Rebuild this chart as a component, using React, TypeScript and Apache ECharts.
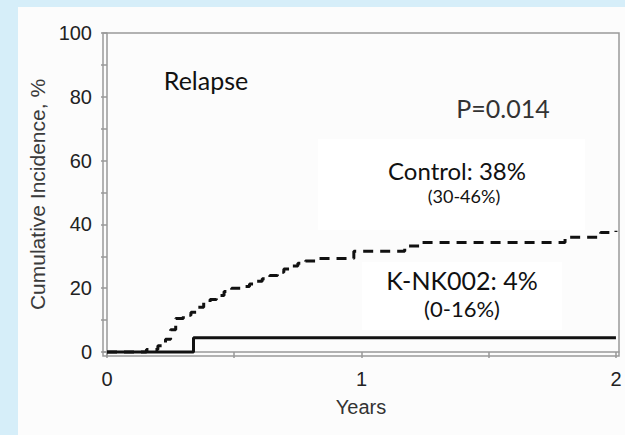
import React, { useEffect, useRef } from "react";
import * as echarts from "echarts";

// Data (Years, cumulative incidence %)
const controlYears = [0, 0.155, 0.2, 0.23, 0.25, 0.27, 0.3, 0.33, 0.355, 0.38, 0.405, 0.43, 0.46, 0.49, 0.525, 0.56, 0.585, 0.61, 0.64, 0.67, 0.695, 0.72, 0.75, 0.78, 0.83, 0.97, 1.17, 1.24, 1.8, 1.94, 2.0];
const controlIncidence = [0, 0.8, 2, 4, 7, 10.5, 11.5, 12.5, 14, 15.5, 16.5, 17.7, 19, 20, 20.5, 21.3, 22.2, 23, 24, 25, 26, 27, 27.8, 28.5, 29.3, 31.6, 33.2, 34.3, 36, 37.5, 38];
const nkYears = [0, 0.34, 2.0];
const nkIncidence = [0, 4.5, 4.5];

const xTickValues = [0, 0.5, 1, 1.5, 2];
const xLabelValues = [0, 1, 2];
const yTickValues = [0, 10, 20, 30, 40, 50, 60, 70, 80, 90, 100];
const yLabelValues = [0, 20, 40, 60, 80, 100];

const titleText = "Relapse";
const pText = "P=0.014";
const controlText = "Control: 38%";
const controlCI = "(30-46%)";
const nkText = "K-NK002: 4%";
const nkCI = "(0-16%)";

export default function App() {
  const ref = useRef<HTMLDivElement>(null);
  useEffect(() => {
    if (!ref.current) return;
    const chart = echarts.init(ref.current, null, { renderer: "svg" });
    const control = controlYears.map((x, i) => [x, controlIncidence[i]]);
    const nk = nkYears.map((x, i) => [x, nkIncidence[i]]);
    const labelFont = "Lato, 'Open Sans', sans-serif";
    const axisFont = "'Liberation Sans', Arial, sans-serif";
    chart.setOption({
      animation: false,
      backgroundColor: "transparent",
      grid: {
        left: 103,
        right: 6,
        top: 33,
        bottom: 79,
        show: true,
        borderColor: "#999999",
        borderWidth: 1.5,
        backgroundColor: "transparent",
      },
      xAxis: {
        type: "value",
        min: -0.0157,
        max: 2.012,
        name: "Years",
        nameLocation: "middle",
        nameGap: 41,
        nameTextStyle: { fontFamily: axisFont, fontSize: 20, color: "#333" },
        axisLine: { show: true, lineStyle: { color: "#999999", width: 1.5 } },
        axisTick: { show: true, length: 6, customValues: xTickValues, lineStyle: { color: "#999999", width: 1.5 } },
        axisLabel: { customValues: xLabelValues, margin: 13, fontFamily: axisFont, fontSize: 20, color: "#222" },
        splitLine: { show: false },
      },
      yAxis: {
        type: "value",
        min: -1.25,
        max: 100,
        name: "Cumulative Incidence, %",
        nameLocation: "middle",
        nameGap: 43,
        nameTextStyle: { fontFamily: axisFont, fontSize: 21, color: "#3a3a3a" },
        axisLine: { show: true, lineStyle: { color: "#999999", width: 1.5 } },
        axisTick: { show: true, length: 6, customValues: yTickValues, lineStyle: { color: "#999999", width: 1.5 } },
        axisLabel: { customValues: yLabelValues, margin: 11, fontFamily: axisFont, fontSize: 20, color: "#222" },
        splitLine: { show: false },
      },
      graphic: [
        { type: "rect", z: 1, shape: { x: 318, y: 139, width: 267, height: 91 }, style: { fill: "#ffffff" } },
        { type: "rect", z: 1, shape: { x: 362, y: 262, width: 200, height: 68 }, style: { fill: "#ffffff" } },
        { type: "text", z: 5, x: 206, y: 80, style: { text: titleText, font: `25px ${labelFont}`, fill: "#111", textAlign: "center", textVerticalAlign: "middle" } },
        { type: "text", z: 5, x: 503, y: 108, style: { text: pText, font: `25px ${labelFont}`, fill: "#333", textAlign: "center", textVerticalAlign: "middle" } },
        { type: "text", z: 5, x: 457, y: 170, style: { text: controlText, font: `24px ${labelFont}`, fill: "#111", textAlign: "center", textVerticalAlign: "middle" } },
        { type: "text", z: 5, x: 464, y: 196, style: { text: controlCI, font: `18px ${labelFont}`, fill: "#111", textAlign: "center", textVerticalAlign: "middle" } },
        { type: "text", z: 5, x: 462, y: 280, style: { text: nkText, font: `25px ${labelFont}`, fill: "#111", textAlign: "center", textVerticalAlign: "middle" } },
        { type: "text", z: 5, x: 462, y: 308, style: { text: nkCI, font: `22px ${labelFont}`, fill: "#111", textAlign: "center", textVerticalAlign: "middle" } },
      ],
      series: [
        {
          name: "Control",
          type: "line",
          step: "end",
          data: control,
          showSymbol: false,
          z: 3,
          lineStyle: { color: "#111", width: 3, type: [10, 7] },
        },
        {
          name: "K-NK002",
          type: "line",
          step: "end",
          data: nk,
          showSymbol: false,
          z: 3,
          lineStyle: { color: "#111", width: 3 },
        },
      ],
    });
    return () => chart.dispose();
  }, []);
  return (
    <div style={{ position: "fixed", left: 0, top: 0, width: 625, height: 435, background: "#d6eef9" }}>
      <div style={{ position: "absolute", left: 18, top: 7, width: 607, height: 428, background: "#fcfcfc" }} />
      <div ref={ref} style={{ position: "absolute", left: 0, top: 0, width: 625, height: 435 }} />
    </div>
  );
}
